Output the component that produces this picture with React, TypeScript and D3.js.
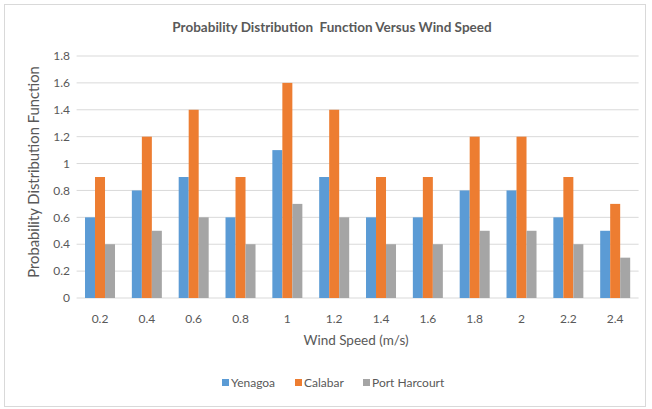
import React from "react";
import * as d3 from "d3";

const categories = ["0.2", "0.4", "0.6", "0.8", "1", "1.2", "1.4", "1.6", "1.8", "2", "2.2", "2.4"];
const yenagoa = [0.6, 0.8, 0.9, 0.6, 1.1, 0.9, 0.6, 0.6, 0.8, 0.8, 0.6, 0.5];
const calabar = [0.9, 1.2, 1.4, 0.9, 1.6, 1.4, 0.9, 0.9, 1.2, 1.2, 0.9, 0.7];
const portHarcourt = [0.4, 0.5, 0.6, 0.4, 0.7, 0.6, 0.4, 0.4, 0.5, 0.5, 0.4, 0.3];
const seriesNames = ["Yenagoa", "Calabar", "Port Harcourt"];
const yTicks = [0, 0.2, 0.4, 0.6, 0.8, 1, 1.2, 1.4, 1.6, 1.8];

const colors = ["#5B9BD5", "#ED7D31", "#A5A5A5"];
const W = 652, H = 409;
const font = "Lato, 'Open Sans', sans-serif";
const textColor = "#595959";

export default function App() {
  const series = [yenagoa, calabar, portHarcourt];
  const x = d3.scaleBand<string>().domain(categories).range([76.6, 638.6]).paddingInner(0).paddingOuter(0);
  const y = d3.scaleLinear().domain([0, 1.8]).range([298, 56]);
  const groupW = 30;
  const inner = d3.scaleBand<string>().domain(seriesNames).range([0, groupW]);

  const legendItems = [
    { name: "Yenagoa", x: 222 },
    { name: "Calabar", x: 295 },
    { name: "Port Harcourt", x: 363 },
  ];

  return (
    <svg width={W} height={H} style={{ position: "absolute", left: 0, top: 0 }} fontFamily={font}>
      <rect x={0} y={0} width={W} height={H} fill="#fff" />
      <rect x={4.5} y={4.5} width={641} height={402} fill="none" stroke="#d9d9d9" strokeWidth={1} />
      <text x={332} y={32} textAnchor="middle" fontSize={13.5} fontWeight="bold" fill={textColor} style={{ whiteSpace: "pre" }}>
        {"Probability Distribution  Function Versus Wind Speed"}
      </text>
      {yTicks.map((t) => (
        <g key={t}>
          <line x1={76.6} x2={638.6} y1={y(t)} y2={y(t)} stroke="#d9d9d9" strokeWidth={1} />
          <text x={70} y={y(t)} dy="0.35em" textAnchor="end" fontSize={12} fill={textColor}>
            {d3.format("~g")(t)}
          </text>
        </g>
      ))}
      {categories.map((c, i) => (
        <g key={c} transform={`translate(${(x(c) as number) + (x.bandwidth() - groupW) / 2},0)`}>
          {series.map((s, j) => (
            <rect
              key={j}
              x={inner(seriesNames[j]) as number}
              width={inner.bandwidth()}
              y={y(s[i])}
              height={y(0) - y(s[i])}
              fill={colors[j]}
            />
          ))}
        </g>
      ))}
      {categories.map((c) => (
        <text key={c} x={(x(c) as number) + x.bandwidth() / 2} y={323} textAnchor="middle" fontSize={12} fill={textColor}>
          {c}
        </text>
      ))}
      <text x={356} y={345} textAnchor="middle" fontSize={13.5} fill={textColor}>
        Wind Speed (m/s)
      </text>
      <text
        transform={`translate(39,172) rotate(-90)`}
        textAnchor="middle"
        fontSize={14.8}
        fill={textColor}
      >
        Probability Distribution Function
      </text>
      {legendItems.map((l, i) => (
        <g key={l.name}>
          <rect x={l.x} y={379} width={7} height={7} fill={colors[i]} />
          <text x={l.x + 9} y={383} dy="0.35em" fontSize={12} fill={textColor}>
            {l.name}
          </text>
        </g>
      ))}
    </svg>
  );
}
